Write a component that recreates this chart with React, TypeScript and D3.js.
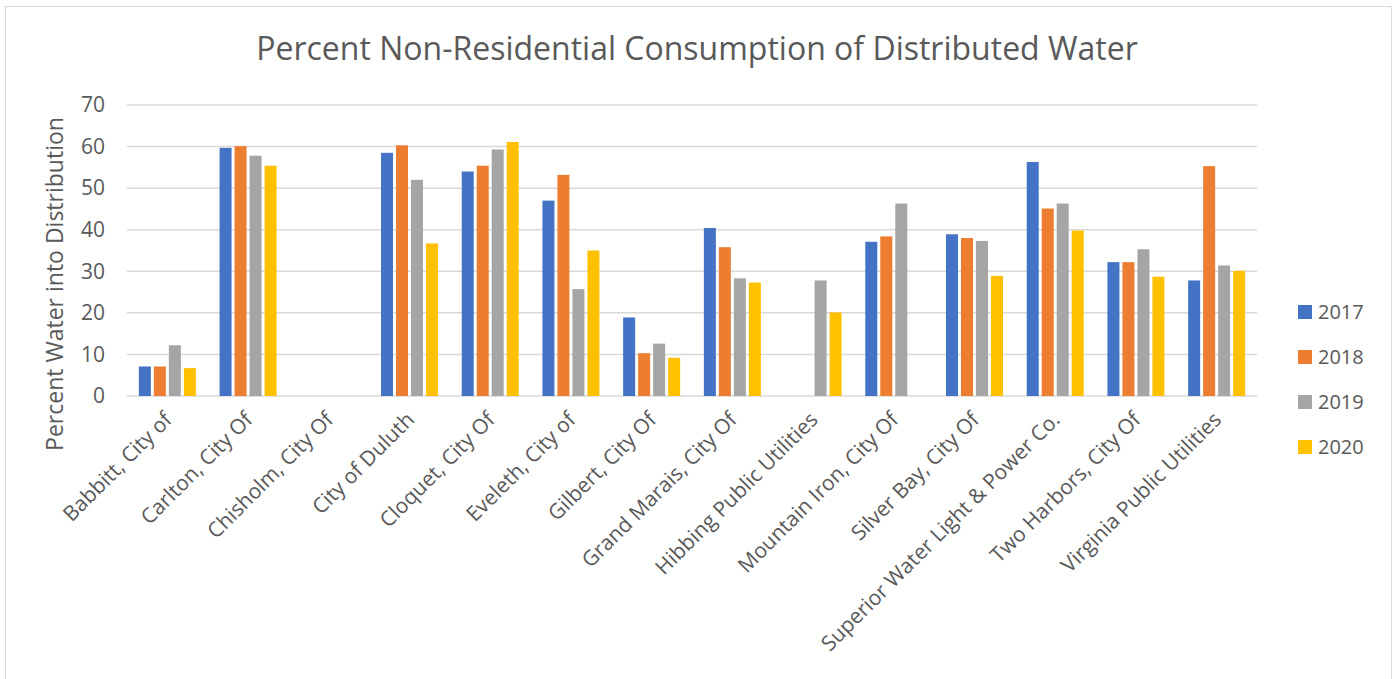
import { useMemo } from "react";
import * as d3 from "d3";

const categories = [
  "Babbitt, City of",
  "Carlton, City Of",
  "Chisholm, City Of",
  "City of Duluth",
  "Cloquet, City Of",
  "Eveleth, City of",
  "Gilbert, City Of",
  "Grand Marais, City Of",
  "Hibbing Public Utilities",
  "Mountain Iron, City Of",
  "Silver Bay, City Of",
  "Superior Water Light & Power Co.",
  "Two Harbors, City Of",
  "Virginia Public Utilities",
];

const years = ["2017", "2018", "2019", "2020"];

const values2017 = [7.1, 59.7, null, 58.5, 54.0, 47.0, 18.9, 40.4, null, 37.1, 38.9, 56.3, 32.2, 27.8];
const values2018 = [7.1, 60.1, null, 60.3, 55.4, 53.2, 10.3, 35.8, null, 38.4, 38.0, 45.1, 32.2, 55.3];
const values2019 = [12.2, 57.8, null, 52.0, 59.3, 25.7, 12.6, 28.3, 27.8, 46.3, 37.3, 46.3, 35.3, 31.4];
const values2020 = [6.7, 55.4, null, 36.7, 61.1, 35.0, 9.2, 27.3, 20.1, null, 28.9, 39.8, 28.7, 30.1];

const yTicks = [0, 10, 20, 30, 40, 50, 60, 70];

const colors = ["#4472C4", "#ED7D31", "#A5A5A5", "#FFC000"];

const W = 1399;
const H = 679;
const textColor = "#595959";
const font = "'Open Sans', sans-serif";

export default function App() {
  const series = [values2017, values2018, values2019, values2020];

  const { x0, x1, y } = useMemo(() => {
    const x0 = d3.scaleBand<string>().domain(categories).range([127, 1257]).padding(0);
    const x1 = d3
      .scaleBand<string>()
      .domain(years)
      .range([0, 60])
      .paddingInner(0.2)
      .paddingOuter(0.1);
    const y = d3.scaleLinear().domain([0, 70]).range([396, 105]);
    return { x0, x1, y };
  }, []);

  const groupOffset = (x0.bandwidth() - 60) / 2;

  return (
    <svg
      width={W}
      height={H}
      style={{ position: "absolute", left: 0, top: 0, background: "#fff" }}
    >
      <rect x={5.5} y={6.5} width={1386} height={700} fill="#fff" stroke="#d9d9d9" strokeWidth={1} />

      <text
        x={697}
        y={60}
        textAnchor="middle"
        fontFamily={font}
        fontSize={32}
        fill={textColor}
      >
        Percent Non-Residential Consumption of Distributed Water
      </text>

      {/* gridlines */}
      {yTicks.map((t) => (
        <line
          key={t}
          x1={127}
          x2={1257}
          y1={y(t)}
          y2={y(t)}
          stroke="#d9d9d9"
          strokeWidth={1.5}
        />
      ))}

      {/* y tick labels */}
      {yTicks.map((t) => (
        <text
          key={t}
          x={105}
          y={y(t)}
          dy="0.35em"
          textAnchor="end"
          fontFamily={font}
          fontSize={21}
          fill={textColor}
        >
          {t}
        </text>
      ))}

      <text
        transform={`translate(63,284) rotate(-90)`}
        textAnchor="middle"
        fontFamily={font}
        fontSize={23}
        fill={textColor}
      >
        Percent Water into Distribution
      </text>

      {/* bars */}
      {categories.map((c, i) => (
        <g key={c} transform={`translate(${(x0(c) ?? 0) + groupOffset},0)`}>
          {years.map((yr, j) => {
            const v = series[j][i];
            if (v == null) return null;
            return (
              <rect
                key={yr}
                x={x1(yr)}
                y={y(v)}
                width={x1.bandwidth()}
                height={y(0) - y(v)}
                fill={colors[j]}
              />
            );
          })}
        </g>
      ))}

      {/* x labels */}
      {categories.map((c) => {
        const cx = (x0(c) ?? 0) + x0.bandwidth() / 2;
        return (
          <text
            key={c}
            transform={`translate(${cx + 6},${421}) rotate(-45)`}
            textAnchor="end"
            fontFamily={font}
            fontSize={21}
            fill={textColor}
          >
            {c}
          </text>
        );
      })}

      {/* legend */}
      {years.map((yr, j) => {
        const ly = 312 + j * 45;
        return (
          <g key={yr}>
            <rect x={1298} y={ly - 7} width={14} height={14} fill={colors[j]} />
            <text
              x={1318}
              y={ly}
              dy="0.35em"
              fontFamily={font}
              fontSize={20}
              fill={textColor}
            >
              {yr}
            </text>
          </g>
        );
      })}
    </svg>
  );
}
